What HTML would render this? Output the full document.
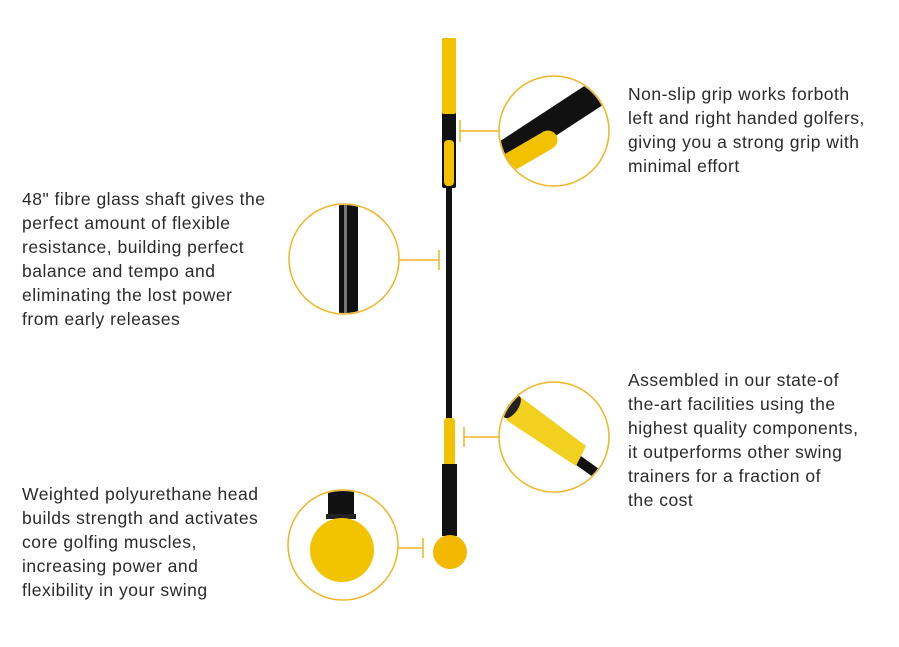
<!DOCTYPE html>
<html><head><meta charset="utf-8"><style>
body{margin:0;background:#fff;}
.t{position:absolute;font-family:"Liberation Sans",sans-serif;font-size:17.5px;letter-spacing:0.5px;line-height:24px;color:#2a2a2a;}
</style></head><body>
<div style="position:relative;width:899px;height:647px;overflow:hidden">
<svg width="899" height="647" style="position:absolute;left:0;top:0">
<defs>
<clipPath id="c1"><circle cx="554" cy="131" r="54"/></clipPath>
<clipPath id="c2"><circle cx="344" cy="259" r="54"/></clipPath>
<clipPath id="c3"><circle cx="554" cy="437" r="54"/></clipPath>
<clipPath id="c4"><circle cx="343" cy="545" r="54"/></clipPath>
</defs>
<rect x="442" y="38" width="14" height="150" rx="2" fill="#111"/>
<rect x="442" y="38" width="14" height="76" rx="2" fill="#f2c100"/>
<rect x="444" y="140" width="10" height="46" rx="4" fill="#f2c100"/>
<rect x="446" y="186" width="6" height="234" fill="#111"/>
<rect x="444" y="418" width="11" height="48" rx="3" fill="#f2c100"/>
<rect x="442" y="464" width="15" height="72" fill="#111"/>
<circle cx="450" cy="552" r="17" fill="#f2b900"/>
<g stroke="#f0b520" stroke-width="1.5" fill="none">
<circle cx="554" cy="131" r="55"/><circle cx="344" cy="259" r="55"/>
<circle cx="554" cy="437" r="55"/><circle cx="343" cy="545" r="55"/>
<path d="M460 120V142M460 131H499"/>
<path d="M439 250V270M399 260H439"/>
<path d="M464 427V447M464 437H499"/>
<path d="M423 538V558M398 548H423"/>
</g>
<g clip-path="url(#c1)">
<path d="M495 160 L605 88" stroke="#111" stroke-width="26"/>
<path d="M505 165 L548 140" stroke="#f2c100" stroke-width="19" stroke-linecap="round"/>
</g>
<g clip-path="url(#c2)"><rect x="339" y="200" width="19" height="120" fill="#111"/><rect x="344" y="200" width="3" height="120" fill="#777"/></g>
<g clip-path="url(#c3)">
<path d="M575 458 L620 490" stroke="#111" stroke-width="10"/>
<path d="M518 395 L586 446 L576 466 L506 420 Z" fill="#f2d020"/>
<ellipse cx="512" cy="407" rx="6" ry="13" fill="#222" transform="rotate(35 512 407)"/>
</g>
<g clip-path="url(#c4)">
<rect x="328" y="490" width="26" height="28" fill="#111"/>
<rect x="326" y="514" width="30" height="5" fill="#222"/>
<circle cx="342" cy="550" r="32" fill="#f2c400"/>
</g>
</svg>
<div class="t" style="left:628px;top:82px">Non-slip grip works forboth<br>left and right handed golfers,<br>giving you a strong grip with<br>minimal effort</div>
<div class="t" style="left:22px;top:187px">48" fibre glass shaft gives the<br>perfect amount of flexible<br>resistance, building perfect<br>balance and tempo and<br>eliminating the lost power<br>from early releases</div>
<div class="t" style="left:628px;top:368px">Assembled in our state-of<br>the-art facilities using the<br>highest quality components,<br>it outperforms other swing<br>trainers for a fraction of<br>the cost</div>
<div class="t" style="left:22px;top:482px">Weighted polyurethane head<br>builds strength and activates<br>core golfing muscles,<br>increasing power and<br>flexibility in your swing</div>
</div>
</body></html>
